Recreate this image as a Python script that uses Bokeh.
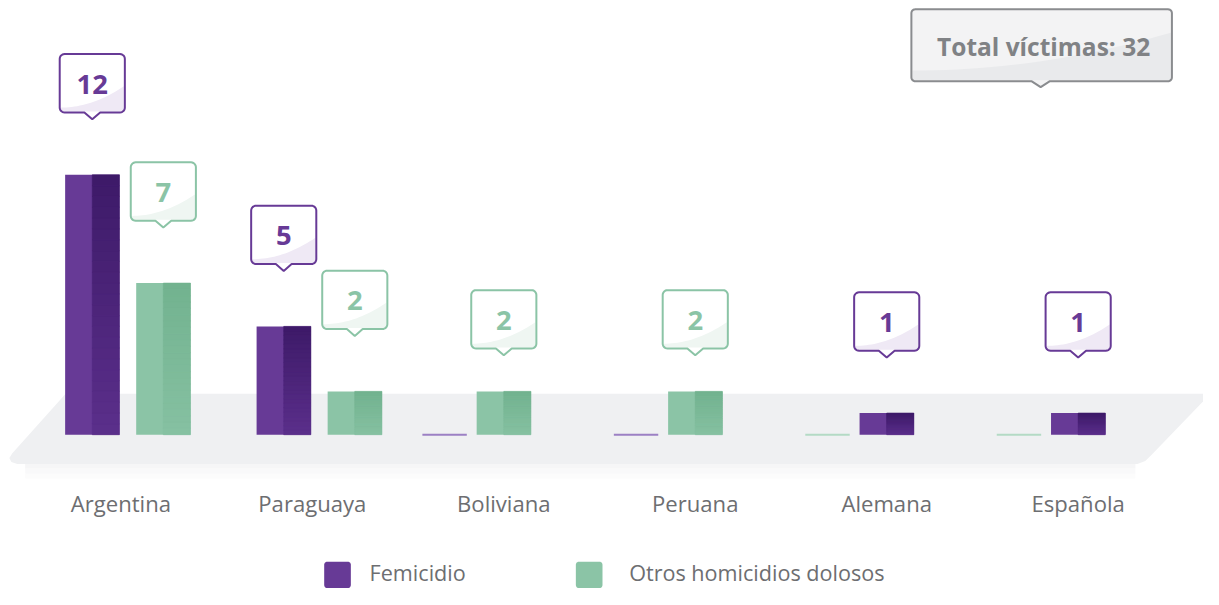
import numpy as np
from bokeh.plotting import figure
from bokeh.models import Range1d
from bokeh.embed import file_html
from bokeh.resources import INLINE
from bokeh.core.properties import value

# ---------------- data ----------------
categories = ["Argentina", "Paraguaya", "Boliviana", "Peruana", "Alemana", "Española"]
femicidio = [12, 5, 0, 0, 1, 1]
otros = [7, 2, 2, 2, 0, 0]
series_names = ["Femicidio", "Otros homicidios dolosos"]
total_label = "Total víctimas: 32"

# ---------------- style / layout (design in 1219x605 px, drawn at 1203x589) ----------------
W, H = 1203, 589
RW, RH = 1219.0, 605.0
K = (W / RW + H / RH) / 2
UX = 194.0      # design px per category step
UY = 22.25      # design px per unit of value
X0 = 122.0      # design px of first category center
Y0 = 446.0      # design px of baseline
FONT = value("Open Sans")

PURPLE = "#673a96"
PURPLE_TOP = "#3d1a68"
PURPLE_BOT = "#5b2f8b"
PURPLE_ZERO = "#9c80c4"
PURPLE_SHADE = "#efe9f5"
GREEN = "#8bc4a6"
GREEN_TOP = "#72b28f"
GREEN_BOT = "#86c1a2"
GREEN_ZERO = "#b4dac5"
GREEN_SHADE = "#eff6f2"
TEXT_GRAY = "#6d6e71"


def fs(px):
    return "%.1fpx" % (px * K)


def dx(px):
    return px / UX


def dy(px):
    return px / UY


def sx(x):   # design x -> data
    return (x - X0) / UX


def sy(y):   # design y -> data
    return (Y0 - y) / UY


def mix(c1, c2, t):
    a = [int(c1[i:i + 2], 16) for i in (1, 3, 5)]
    b = [int(c2[i:i + 2], 16) for i in (1, 3, 5)]
    return "#%02x%02x%02x" % tuple(int(round(a[k] + (b[k] - a[k]) * t)) for k in range(3))


def rounded_shape(cx, cy, hw, hh, r, pointer=None, n=7):
    """Rounded box in design px around data centre (cx, cy); optional bottom pointer (offset, half-width, depth)."""
    pts = []

    def arc(ax, ay, a0, a1):
        for a in np.linspace(a0, a1, n):
            pts.append((ax + r * np.cos(np.radians(a)), ay + r * np.sin(np.radians(a))))
    arc(-hw + r, -hh + r, 180, 270)
    arc(hw - r, -hh + r, 270, 360)
    arc(hw - r, hh - r, 0, 90)
    if pointer is not None:
        po, pw, pd = pointer
        pts += [(po + pw, hh), (po, hh + pd), (po - pw, hh)]
    arc(-hw + r, hh - r, 90, 180)
    return [cx + dx(a) for a, b in pts], [cy - dy(b) for a, b in pts]


def shade_shape(cx, cy, hw, hh, r, yl, yr, n=7):
    """Lower shaded region below a curve from (left, yl) to (right, yr)."""
    pts = []
    for t in np.linspace(0, 1, 24):
        pts.append((-hw + 1 + t * (2 * hw - 2), yl - (yl - yr) * t * t))
    rr = r - 1
    for a in np.linspace(0, 90, n):
        pts.append((hw - r + rr * np.cos(np.radians(a)), hh - r + rr * np.sin(np.radians(a))))
    for a in np.linspace(90, 180, n):
        pts.append((-hw + r + rr * np.cos(np.radians(a)), hh - r + rr * np.sin(np.radians(a))))
    return [cx + dx(a) for a, b in pts], [cy - dy(b) for a, b in pts]


p = figure(width=W, height=H,
           x_range=Range1d(-X0 / UX, (RW - X0) / UX),
           y_range=Range1d(-(RH - Y0) / UY, Y0 / UY),
           output_backend="svg", toolbar_location=None,
           x_axis_type=None, y_axis_type=None, min_border=0)
p.outline_line_color = None
p.background_fill_color = "white"
p.border_fill_color = "white"
p.grid.visible = False

# ---------------- floor ----------------
floor = [(66, 404), (1226, 404), (1166, 467), (1160, 473), (1152, 476),
         (17, 476), (11, 474), (9, 470), (12, 465)]
for k, col in enumerate(["#f6f6f7", "#f9f9fa", "#fcfcfc"]):
    y_a, y_b = 476 + 5 * k, 481 + 5 * k
    p.patch([sx(25), sx(1150), sx(1150), sx(25)], [sy(y_a), sy(y_a), sy(y_b), sy(y_b)],
            fill_color=col, line_color=None)
p.patch([sx(a) for a, b in floor], [sy(b) for a, b in floor], fill_color="#eff0f2", line_color=None)

# ---------------- bar positions ----------------
BAR_W = 55
ZERO_W = 45
bars = []   # (x, value, series index)
for i, (f, o) in enumerate(zip(femicidio, otros)):
    if f > 0 and o > 0:
        bars.append((i + dx(-29), f, 0))
        bars.append((i + dx(43), o, 1))
    elif f == 0:
        bars.append((i + dx(-60), f, 0))
        bars.append((i, o, 1))
    else:
        bars.append((i + dx(-60), o, 1))
        bars.append((i, f, 0))

base_cols = [PURPLE, GREEN]
top_cols = [PURPLE_TOP, GREEN_TOP]
bot_cols = [PURPLE_BOT, GREEN_BOT]
zero_cols = [PURPLE_ZERO, GREEN_ZERO]

nz = [b for b in bars if b[1] > 0]
zr = [b for b in bars if b[1] == 0]

p.vbar(x=[b[0] for b in nz], top=[b[1] for b in nz], bottom=0, width=dx(BAR_W),
       fill_color=[base_cols[b[2]] for b in nz], line_color=None)

# right-half gradient
N = 24
gx, gt, gb, gc = [], [], [], []
for x, v, s in nz:
    for k in range(N):
        gx.append(x + dx(BAR_W) / 4)
        gb.append(v * k / N)
        gt.append(v * (k + 1) / N)
        gc.append(mix(bot_cols[s], top_cols[s], (k + 0.5) / N))
p.vbar(x=gx, top=gt, bottom=gb, width=dx(BAR_W) / 2, fill_color=gc, line_color=gc, line_width=0.6)

p.vbar(x=[b[0] for b in zr], top=[b[1] for b in zr], bottom=0, width=dx(ZERO_W),
       fill_color=None, line_color=[zero_cols[b[2]] for b in zr], line_width=2)

# ---------------- callouts ----------------
CALL_OFF = 94
CALL_NUDGE = {"Boliviana": 20, "Peruana": 20}
cxs, cys, ccols, cshade_cols, ctexts = [], [], [], [], []
for x, v, s in nz:
    i = int(round(x))
    cxs.append(x)
    cys.append(v + dy(CALL_OFF - CALL_NUDGE.get(categories[i], 0)))
    ccols.append(base_cols[s])
    cshade_cols.append([PURPLE_SHADE, GREEN_SHADE][s])
    ctexts.append(str(v))

oxs, oys, sxs, sys_ = [], [], [], []
for cx, cy in zip(cxs, cys):
    a, b = rounded_shape(cx, cy, 33, 30, 5, pointer=(0, 8, 7))
    oxs.append(a)
    oys.append(b)
    a, b = shade_shape(cx, cy, 33, 30, 5, 25, 3)
    sxs.append(a)
    sys_.append(b)
p.patches(oxs, oys, fill_color="white", line_color=None)
p.patches(sxs, sys_, fill_color=cshade_cols, line_color=None)
p.patches(oxs, oys, fill_color=None, line_color=ccols, line_width=2)
p.text(x=cxs, y=[c - dy(1) for c in cys], text=ctexts, text_align="center", text_baseline="middle",
       text_font=FONT, text_font_style="bold", text_font_size=fs(28), text_color=ccols)

# ---------------- category labels ----------------
p.text(x=list(range(len(categories))), y=[sy(516.5)] * len(categories), text=categories,
       text_align="center", text_baseline="middle", text_font=FONT,
       text_font_size=fs(22.5), text_color=TEXT_GRAY)

# ---------------- total box ----------------
tcx, tcy = sx(1055), sy(46)
a, b = rounded_shape(tcx, tcy, 132, 37, 4, pointer=(-1, 9, 6))
p.patch(a, b, fill_color="#f3f3f4", line_color=None)
a2, b2 = shade_shape(tcx, tcy, 132, 37, 4, 26, -13)
p.patch(a2, b2, fill_color="#e9eaec", line_color=None)
p.patch(a, b, fill_color=None, line_color="#8a8c8f", line_width=2)
p.text(x=[sx(1057)], y=[sy(47)], text=[total_label], text_align="center", text_baseline="middle",
       text_font=FONT, text_font_style="bold", text_font_size=fs(25), text_color="#808285")

# ---------------- legend ----------------
leg_sw_x = [341.5, 596.5]
leg_tx_x = [374, 637]
lxs, lys = [], []
for lx in leg_sw_x:
    a, b = rounded_shape(sx(lx), sy(590), 13.5, 13.5, 3)
    lxs.append(a)
    lys.append(b)
p.patches(lxs, lys, fill_color=base_cols, line_color=None)
p.text(x=[sx(v) for v in leg_tx_x], y=[sy(588)] * 2, text=series_names, text_align="left",
       text_baseline="middle", text_font=FONT, text_font_size=fs(22), text_color=TEXT_GRAY)

open("out.html", "w").write(file_html(p, INLINE))
